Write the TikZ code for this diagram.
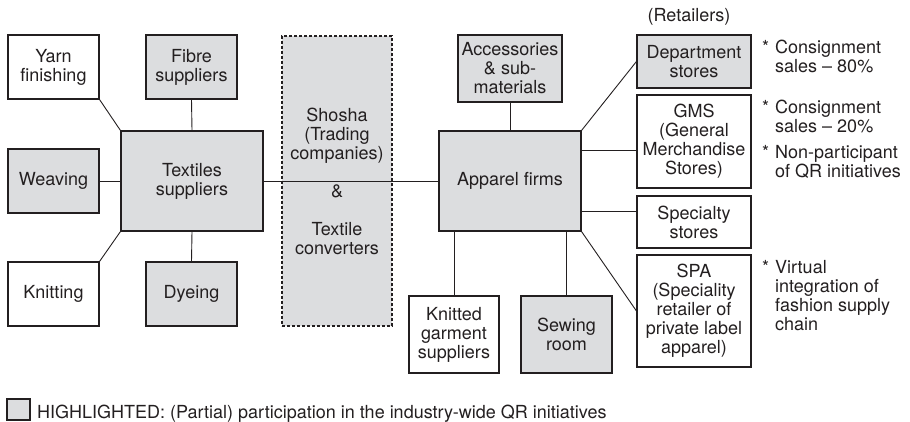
\documentclass[tikz,border=0pt]{standalone}
\usepackage{fontspec}
\setmainfont{TeX Gyre Heros}
\definecolor{hlgray}{RGB}{220,221,223}
\definecolor{ink}{RGB}{35,31,32}
\begin{document}
\begin{tikzpicture}[x=1pt,y=-1pt,
  every node/.style={font=\fontsize{18}{19}\selectfont,inner sep=0pt,align=center,text=ink},
  box/.style={draw=ink,line width=1.1pt,rectangle},
  hl/.style={fill=hlgray},
  small/.style={minimum width=91,minimum height=64},
  hub/.style={minimum width=142,minimum height=100},
  shop/.style={minimum width=114},
  note/.style={anchor=base west,align=left},
  link/.style={draw=ink,line width=0.9pt}]
\useasboundingbox (0,0) rectangle (910,422);
\node[box,hl,dashed,dash pattern=on 3pt off 2pt,minimum width=110,minimum height=290] (shosha) at (337,181)
  {Shosha\\(Trading\\companies)\\[19pt]\&\\[19pt]Textile\\converters};
\node[box,small] (yarn) at (53.5,67) {Yarn\\finishing};
\node[box,hl,small] (fibre) at (191.5,67) {Fibre\\suppliers};
\node[box,hl,small] (weave) at (53.5,181) {Weaving};
\node[box,small] (knit) at (53.5,294) {Knitting};
\node[box,hl,small] (dye) at (191.5,294) {Dyeing};
\node[box,hl,hub] (tex) at (192,181) {Textiles\\suppliers};
\node[box,hl,hub] (app) at (510,181) {Apparel firms};
\node[box,hl,minimum width=104,minimum height=67] (acc) at (510,68.5) {Accessories\\\& sub-\\materials};
\node[box,minimum width=90,minimum height=77] (kgs) at (454,334.5) {Knitted\\garment\\suppliers};
\node[box,hl,minimum width=91,minimum height=77] (sew) at (566.5,334.5) {Sewing\\room};
\node (retail) at (689,17) {(Retailers)};
\node[box,hl,shop,minimum height=53] (dept) at (694,61.5) {Department\\stores};
\node[box,shop,minimum height=93] (gms) at (694,141.5) {GMS\\(General\\Merchandise\\Stores)};
\node[box,shop,minimum height=52] (spec) at (694,222) {Specialty\\stores};
\node[box,shop,minimum height=112] (spa) at (694,311) {SPA\\(Speciality\\retailer of\\private label\\apparel)};
\node[note] (n1) at (775,73) {\llap{*\hspace{6pt}}Consignment\\sales \textendash{} 80\%};
\node[note] (n2) at (775,133) {\llap{*\hspace{6pt}}Consignment\\sales \textendash{} 20\%};
\node[note] (n3) at (775,178) {\llap{*\hspace{6pt}}Non-participant\\of QR initiatives};
\node[note] (n4) at (775,330) {\llap{*\hspace{6pt}}Virtual\\integration of\\fashion supply\\chain};
\node[box,hl,minimum width=23,minimum height=21] (key) at (18.5,409.5) {};
\node[anchor=base west] (keytext) at (37,418) {HIGHLIGHTED: (Partial) participation in the industry-wide QR initiatives};
\coordinate (app-gms) at ([yshift=31pt]app.east);
\coordinate (app-spec) at ([yshift=-30pt]app.east);
\draw[link] (yarn.south east) -- (tex.north west);
\draw[link] (fibre.south) -- (tex.north);
\draw[link] (weave.east) -- (tex.west);
\draw[link] (knit.north east) -- (tex.south west);
\draw[link] (dye.north) -- (tex.south);
\draw[link] (tex.east) -- (app.west);
\draw[link] (acc.south) -- (app.north);
\draw[link] (app.north east) -- (dept.west);
\draw[link] (app-gms) -- (app-gms -| gms.west);
\draw[link] (app-spec) -- (app-spec -| spec.west);
\draw[link] (app.south east) -- (spa.west);
\draw[link] (kgs.north) -- (kgs.north |- app.south);
\draw[link] (sew.north) -- (sew.north |- app.south);
\end{tikzpicture}
\end{document}
